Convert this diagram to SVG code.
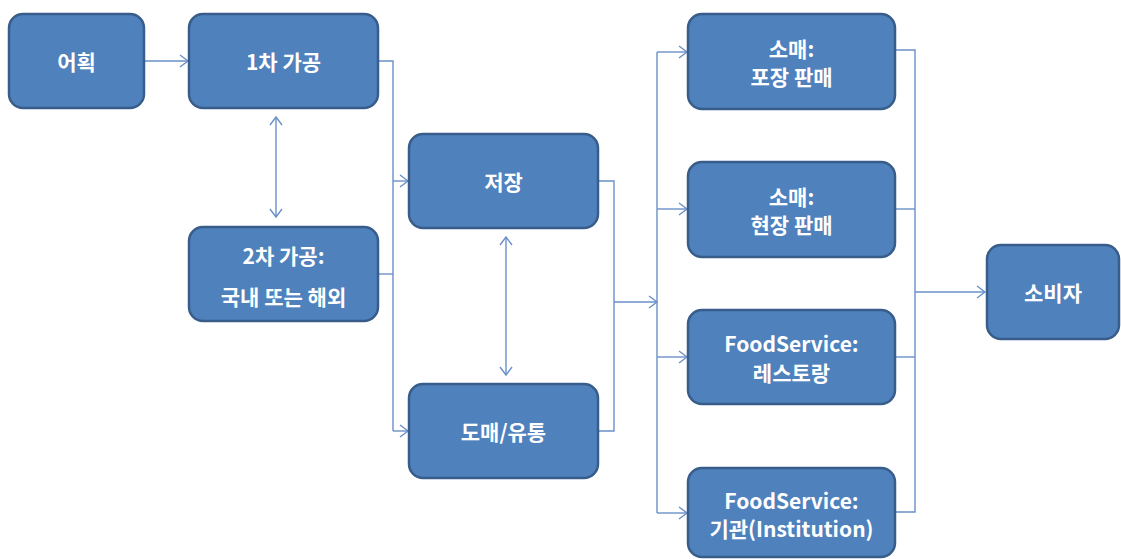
<svg xmlns="http://www.w3.org/2000/svg" width="1121" height="559" viewBox="0 0 1121 559">
<style>
.box{fill:#4F81BD;stroke:#385D8A;stroke-width:2.5}
.t{fill:#fff;font-family:"Noto Sans CJK KR","Noto Sans",sans-serif;font-weight:bold;font-size:21px;text-anchor:middle;dominant-baseline:central}
.c{fill:none;stroke:#6A90C9;stroke-width:1.4}
</style>
<defs>
<marker id="a" markerUnits="userSpaceOnUse" markerWidth="12" markerHeight="14" refX="9" refY="7" orient="auto-start-reverse" viewBox="0 0 12 14">
<path d="M1,1 L9,7 L1,13" fill="none" stroke="#6A90C9" stroke-width="1.4"/>
</marker>
</defs>
<g id="connectors">
<path class="c" d="M144,61 H188" marker-end="url(#a)"/>
<path class="c" d="M276,117 V217" marker-start="url(#a)" marker-end="url(#a)"/>
<path class="c" d="M378,61 H393 V431"/>
<path class="c" d="M378,274 H393"/>
<path class="c" d="M393,181 H408" marker-end="url(#a)"/>
<path class="c" d="M393,431 H408" marker-end="url(#a)"/>
<path class="c" d="M506,237 V375" marker-start="url(#a)" marker-end="url(#a)"/>
<path class="c" d="M598,181 H614 V431 H598"/>
<path class="c" d="M614,302 H657" marker-end="url(#a)"/>
<path class="c" d="M657,52 V513"/>
<path class="c" d="M657,52 H687" marker-end="url(#a)"/>
<path class="c" d="M657,209 H687" marker-end="url(#a)"/>
<path class="c" d="M657,357 H687" marker-end="url(#a)"/>
<path class="c" d="M657,513 H687" marker-end="url(#a)"/>
<path class="c" d="M895,50 H915 V512 H895"/>
<path class="c" d="M895,209 H915"/>
<path class="c" d="M895,357 H915"/>
<path class="c" d="M915,292 H985" marker-end="url(#a)"/>
</g>
<g id="n1"><rect class="box" x="9" y="14" width="135" height="94" rx="14"/><text class="t" x="76.5" y="61">어획</text></g>
<g id="n2"><rect class="box" x="189" y="14" width="189" height="94" rx="14"/><text class="t" x="283.5" y="61">1차 가공</text></g>
<g id="n3"><rect class="box" x="189" y="227" width="189" height="94" rx="14"/><text class="t" x="283.5" y="255">2차 가공:</text><text class="t" x="283.5" y="296">국내 또는 해외</text></g>
<g id="n4"><rect class="box" x="409" y="134" width="189" height="94" rx="14"/><text class="t" x="503.5" y="181">저장</text></g>
<g id="n5"><rect class="box" x="409" y="384" width="189" height="94" rx="14"/><text class="t" x="503.5" y="431">도매/유통</text></g>
<g id="n6"><rect class="box" x="688" y="14" width="207" height="95" rx="14"/><text class="t" x="791.5" y="48">소매:</text><text class="t" x="791.5" y="76">포장 판매</text></g>
<g id="n7"><rect class="box" x="688" y="162" width="207" height="95" rx="14"/><text class="t" x="791.5" y="196">소매:</text><text class="t" x="791.5" y="224">현장 판매</text></g>
<g id="n8"><rect class="box" x="688" y="310" width="207" height="94" rx="14"/><text class="t" x="791.5" y="343">FoodService:</text><text class="t" x="791.5" y="372">레스토랑</text></g>
<g id="n9"><rect class="box" x="688" y="468" width="207" height="89" rx="14"/><text class="t" x="791.5" y="500">FoodService:</text><text class="t" x="791.5" y="528">기관(Institution)</text></g>
<g id="n10"><rect class="box" x="987" y="245" width="132" height="94" rx="14"/><text class="t" x="1053" y="292">소비자</text></g>
</svg>
